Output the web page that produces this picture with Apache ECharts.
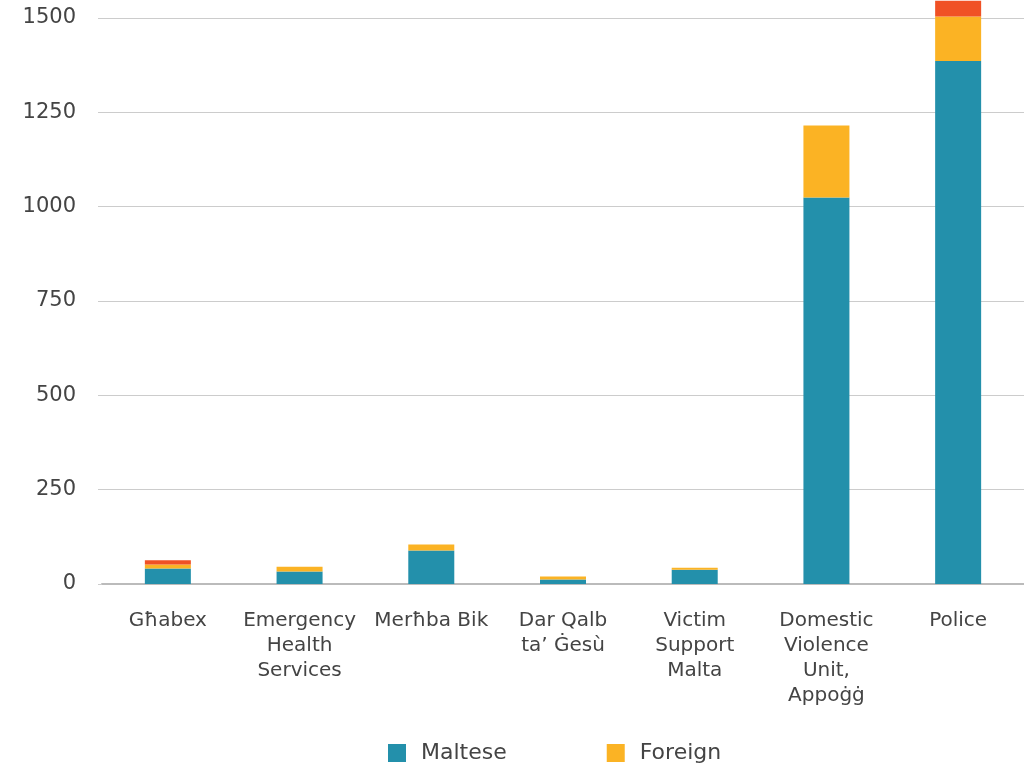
<!DOCTYPE html>
<html><head><meta charset="utf-8">
<script src="https://cdn.jsdelivr.net/npm/echarts@6/dist/echarts.min.js"></script>
<style>html,body{margin:0;padding:0;background:#fff}#c{width:1024px;height:769px}</style>
</head><body><div id="c"></div>
<script>
var categories = ['Għabex', 'Emergency\nHealth\nServices', 'Merħba Bik', 'Dar Qalb\nta’ Ġesù', 'Victim\nSupport\nMalta', 'Domestic\nViolence\nUnit,\nAppoġġ', 'Police'];
var maltese = [41, 33, 89, 12, 38, 1024, 1386];
var foreign = [11, 13, 16, 8, 5, 191, 118];
var other = [11, 0, 0, 0, 0, 0, 42];
var yTicks = [0, 250, 500, 750, 1000, 1250, 1500];

var font = '"DejaVu Sans", sans-serif';
var chart = echarts.init(document.getElementById('c'));
chart.setOption({
  animation: false,
  textStyle: {fontFamily: font},
  grid: {left: 102, right: -1, top: 18, bottom: 185, containLabel: false},
  legend: {
    data: ['Maltese', 'Foreign'], bottom: 0, left: 383, itemGap: 100,
    itemWidth: 18, itemHeight: 18, icon: 'rect',
    textStyle: {fontSize: 22, color: '#444', fontFamily: font, padding: [0, 0, 0, 10]}
  },
  xAxis: {
    type: 'category', data: categories,
    axisLine: {lineStyle: {color: '#bbb', width: 2}},
    axisTick: {show: false},
    axisLabel: {fontSize: 20, color: '#444', lineHeight: 25, margin: 24, interval: 0, fontFamily: font}
  },
  yAxis: {
    type: 'value', min: yTicks[0], max: yTicks[yTicks.length - 1], interval: 250,
    axisLine: {show: false},
    axisTick: {show: true, length: 4, lineStyle: {color: '#ccc'}},
    splitLine: {lineStyle: {color: '#ccc', width: 1}},
    axisLabel: {fontSize: 21, color: '#444', margin: 26, fontFamily: font, formatter: function (v) { return String(v); }}
  },
  series: [
    {name: 'Maltese', type: 'bar', stack: 's', data: maltese, barWidth: 46, clip: false, itemStyle: {color: '#2390AB'}},
    {name: 'Foreign', type: 'bar', stack: 's', data: foreign, barWidth: 46, clip: false, itemStyle: {color: '#FBB324'}},
    {name: 'Other', type: 'bar', stack: 's', data: other, barWidth: 46, clip: false, itemStyle: {color: '#F05125'}}
  ]
});
</script></body></html>
